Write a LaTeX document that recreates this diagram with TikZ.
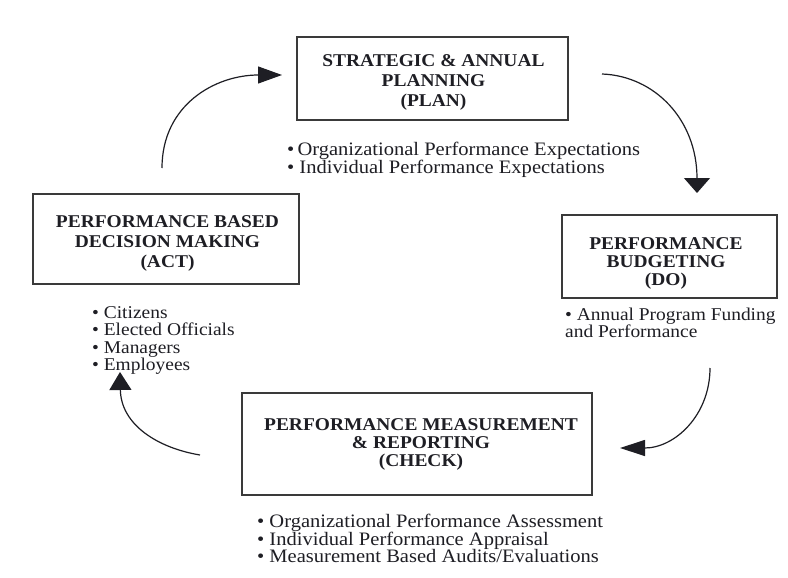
\documentclass[tikz,border=0pt]{standalone}
\usepackage{fontspec}
\setmainfont{Liberation Serif}[FakeStretch=1.08]
\usetikzlibrary{arrows.meta}
\definecolor{ink}{HTML}{1E1E24}
\definecolor{frame}{HTML}{3A3A3A}
\tikzset{
 stagebox/.style={draw=frame, line width=1.4pt, inner sep=0pt},
 stagetitle/.style={align=center, text=ink, inner sep=0pt},
 bullets/.style={anchor=north west, align=left, text=ink, inner sep=0pt},
 cyc/.style={draw=ink, line width=1.2pt},
}
\begin{document}
\begin{tikzpicture}[x=1pt,y=-1pt]
\useasboundingbox[fill=white] (0,0) rectangle (788,578);

\node[stagebox, minimum width=271pt, minimum height=83pt] (plan) at (432.5,78.5) {};
\node[stagebox, minimum width=266pt, minimum height=90pt] (act) at (166,239) {};
\node[stagebox, minimum width=215pt, minimum height=83pt] (do) at (669.5,256.5) {};
\node[stagebox, minimum width=350pt, minimum height=102pt] (check) at (417,444) {};

\node[stagetitle, font=\fontsize{18}{20}\selectfont\bfseries] (plantitle) at (433.5,82.5) {STRATEGIC \& ANNUAL\\PLANNING\\(PLAN)};
\node[stagetitle, font=\fontsize{18}{20}\selectfont\bfseries] (acttitle) at (167.5,243) {PERFORMANCE BASED\\DECISION MAKING\\(ACT)};
\node[stagetitle, font=\fontsize{18}{18}\selectfont\bfseries] (dotitle) at (666,263) {PERFORMANCE\\BUDGETING\\(DO)};
\node[stagetitle, font=\fontsize{18}{18}\selectfont\bfseries] (checktitle) at (421,444.5) {PERFORMANCE MEASUREMENT\\\& REPORTING\\(CHECK)};

\node[bullets, font=\fontsize{19}{15.5}\selectfont] (planlist) at (287,141.5) {\textbullet\,Organizational Performance Expectations\\\textbullet\ Individual Performance Expectations};
\node[bullets, font=\fontsize{18}{17.3}\selectfont] (actlist) at (92,306.5) {\textbullet\ Citizens\\\textbullet\ Elected Officials\\\textbullet\ Managers\\\textbullet\ Employees};
\node[bullets, font=\fontsize{18}{16}\selectfont] (dolist) at (565,307.5) {\textbullet\ Annual Program Funding\\and Performance};
\node[bullets, font=\fontsize{19}{17.5}\selectfont] (checklist) at (257,514) {\textbullet\ Organizational Performance Assessment\\\textbullet\ Individual Performance Appraisal\\\textbullet\ Measurement Based Audits/Evaluations};

\coordinate (a1) at (162,168);
\coordinate (a2) at (282,75);
\coordinate (b1) at (602,74);
\coordinate (b2) at (697,193);
\coordinate (c1) at (710,368);
\coordinate (c2) at (620,448);
\coordinate (d1) at (200,455);
\coordinate (d2) at (120,372);

\draw[cyc, -{Triangle[length=24pt,width=17pt]}] (a1) .. controls (162,105) and (215,75) .. (a2);
\draw[cyc, -{Triangle[length=15pt,width=26pt]}] (b1) .. controls (655,76) and (697,120) .. (b2);
\draw[cyc, -{Triangle[length=25pt,width=16pt]}] (c1) .. controls (710,415) and (675,448) .. (c2);
\draw[cyc, -{Triangle[length=18pt,width=22pt]}] (d1) .. controls (158,448) and (121,425) .. (d2);
\end{tikzpicture}
\end{document}
